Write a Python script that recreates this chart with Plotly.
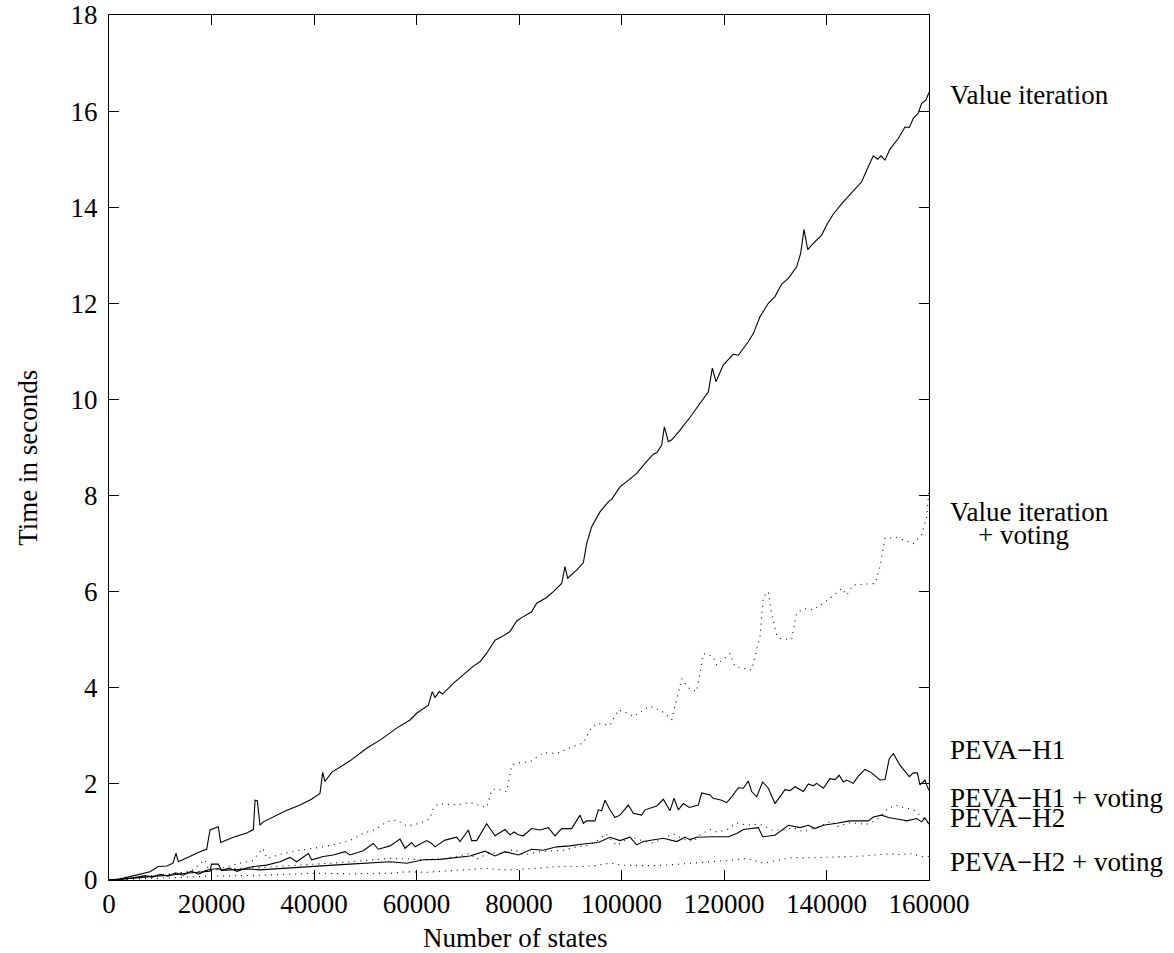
import plotly.graph_objects as go

# ---------------- data ----------------
x_ticks = [0, 20000, 40000, 60000, 80000, 100000, 120000, 140000, 160000]
x_tick_labels = ["0", "20000", "40000", "60000", "80000", "100000", "120000", "140000", "160000"]
y_ticks = [0, 2, 4, 6, 8, 10, 12, 14, 16, 18]

vi_x = [0, 2000, 4100, 6000, 8000, 9600, 11260, 12500, 13070, 13520, 15500, 17760, 19060, 19710, 21330,
        21790, 24260, 26870, 28170, 28500, 28940, 29460, 30110, 32060, 34500, 37270, 39500, 41170, 41300,
        41690, 42140, 43450, 47020, 50280, 52880, 56130, 58730, 60030, 62310, 63080, 63610, 64450, 65100,
        67190, 69790, 71090, 72390, 73690, 75320, 76620, 78240, 79550, 80520, 82470, 83450, 85400, 86700,
        88330, 88970, 89490, 91250, 92550, 93200, 94180, 95800, 97430, 98080, 99700, 101010, 102960,
        104580, 105230, 106200, 106870, 107840, 108360, 109140, 109800, 111420, 113370, 114990, 116290,
        116950, 117720, 118440, 119870, 121820, 122800, 124740, 125720, 127020, 128650, 129950, 131250,
        132550, 134180, 134960, 135610, 136330, 137430, 139060, 140030, 141330, 143280, 145560, 146860,
        147840, 149130, 149990, 150630, 151410, 152390, 154010, 155310, 156160, 156940, 157910, 158570,
        159410, 160000]
vi_y = [0, 0.02, 0.07, 0.12, 0.17, 0.28, 0.29, 0.35, 0.56, 0.38, 0.48, 0.59, 0.64, 1.04, 1.11,
        0.78, 0.89, 0.98, 1.05, 1.66, 1.65, 1.14, 1.21, 1.31, 1.44, 1.56, 1.68, 1.8, 1.91,
        2.24, 2.05, 2.24, 2.48, 2.74, 2.91, 3.16, 3.33, 3.47, 3.64, 3.92, 3.8, 3.92, 3.87,
        4.09, 4.33, 4.45, 4.54, 4.72, 4.99, 5.06, 5.17, 5.39, 5.46, 5.58, 5.76, 5.88, 6.0,
        6.17, 6.52, 6.28, 6.45, 6.6, 7.0, 7.35, 7.66, 7.87, 7.92, 8.18, 8.29, 8.46,
        8.67, 8.75, 8.86, 8.89, 9.05, 9.43, 9.12, 9.16, 9.36, 9.63, 9.88, 10.06,
        10.16, 10.65, 10.37, 10.72, 10.94, 10.92, 11.2, 11.37, 11.72, 12.0, 12.14, 12.4,
        12.52, 12.76, 13.04, 13.54, 13.12, 13.25, 13.42, 13.63, 13.86, 14.11, 14.39, 14.53,
        14.77, 15.07, 15.0, 15.07, 14.98, 15.21, 15.43, 15.67, 15.66, 15.85, 15.96, 16.16,
        16.23, 16.39]

viv_x = [0, 4000, 8000, 12000, 16000, 18700, 19500, 22000, 25560, 28000, 30000, 30800, 34000, 37270,
         40000, 43710, 47000, 49620, 52000, 54180, 56130, 58090, 60680, 62640, 63280, 64260, 67840,
         70440, 73690, 74670, 75500, 77590, 78570, 79500, 82140, 84740, 87350, 90280, 92550, 93850,
         95150, 97750, 99380, 100500, 102300, 105560, 108000, 109800, 111750, 113000, 114670, 115970,
         117920, 118570, 121170, 122150, 125400, 127020, 127670, 128650, 129300, 130280, 131250,
         133200, 134180, 135480, 137430, 140680, 142960, 143930, 145230, 147840, 149460, 150440,
         151410, 153690, 156940, 158570, 159540, 160000]
viv_y = [0, 0.03, 0.08, 0.12, 0.18, 0.42, 0.2, 0.25, 0.35, 0.4, 0.66, 0.45, 0.55, 0.62,
         0.66, 0.73, 0.82, 0.97, 1.05, 1.21, 1.25, 1.12, 1.18, 1.28, 1.49, 1.59, 1.56,
         1.61, 1.51, 1.87, 1.9, 1.84, 2.39, 2.43, 2.46, 2.65, 2.63, 2.77, 2.85, 3.12,
         3.26, 3.22, 3.54, 3.5, 3.4, 3.62, 3.5, 3.34, 4.19, 4.0, 3.92, 4.71,
         4.65, 4.47, 4.71, 4.44, 4.37, 5.06, 5.89, 6.0, 5.55, 5.1, 5.01,
         5.01, 5.55, 5.65, 5.62, 5.86, 6.07, 5.93, 6.14, 6.15, 6.17, 6.52,
         7.11, 7.13, 7.0, 7.18, 7.56, 8.11]

p1_x = [0, 3000, 5000, 7000, 8500, 10000, 11500, 13000, 14500, 16000, 17500, 19000, 19710, 21330, 22000,
        23500, 25000, 26500, 28170, 30760, 33370, 35320, 36620, 38890, 39550, 41820, 43770, 46050, 47020,
        49620, 51570, 52550, 54830, 56780, 57760, 59060, 59710, 61990, 62960, 63610, 65560, 67840, 68490,
        70110, 70770, 71740, 73690, 75320, 77270, 78240, 79020, 79870, 80840, 82470, 84100, 85720, 87020,
        88330, 90280, 91900, 92550, 93200, 94830, 95470, 96120, 96780, 97750, 98730, 99700, 101330,
        102300, 103940, 104580, 106870, 108160, 109460, 110240, 111090, 112060, 113240, 114990, 115650,
        117270, 117910, 119550, 120520, 121500, 122800, 123780, 124740, 125400, 126370, 127540, 128650,
        129950, 130930, 131900, 132880, 133850, 135480, 136450, 137430, 138080, 139380, 140680, 141660,
        142490, 143280, 143930, 145230, 146210, 147510, 148810, 150440, 151410, 152260, 153040, 154340,
        156160, 156940, 157720, 158240, 159210, 159540, 160000]
p1_y = [0, 0.02, 0.05, 0.09, 0.06, 0.12, 0.08, 0.15, 0.1, 0.18, 0.12, 0.2, 0.22, 0.24, 0.2,
        0.25, 0.18, 0.24, 0.28, 0.31, 0.38, 0.47, 0.38, 0.55, 0.42, 0.49, 0.52, 0.59, 0.52,
        0.61, 0.76, 0.64, 0.71, 0.85, 0.66, 0.78, 0.69, 0.82, 0.76, 0.69, 0.83, 0.89, 0.8,
        1.04, 0.82, 0.82, 1.17, 0.92, 1.05, 0.94, 1.0, 0.94, 0.92, 1.07, 1.04, 1.09, 0.92,
        1.07, 1.07, 1.35, 1.18, 1.23, 1.23, 1.46, 1.44, 1.66, 1.46, 1.3, 1.35, 1.56,
        1.39, 1.35, 1.46, 1.54, 1.68, 1.44, 1.7, 1.46, 1.59, 1.51, 1.56, 1.81,
        1.77, 1.7, 1.66, 1.61, 1.73, 1.92, 1.91, 2.06, 1.84, 1.73, 2.04, 1.91,
        1.59, 1.73, 1.88, 1.86, 1.94, 1.84, 2.0, 1.96, 2.01, 1.91, 2.11, 2.09,
        2.18, 2.04, 2.08, 2.01, 2.16, 2.3, 2.23, 2.08, 2.09, 2.53, 2.63, 2.39,
        2.15, 2.23, 2.23, 1.98, 2.08, 1.98, 1.86]

p1v_x = [0, 5000, 10000, 15000, 20000, 25000, 30000, 35000, 40000, 45000, 50000, 54830, 58000, 61340,
         65890, 68000, 70440, 71740, 74340, 77000, 79020, 80840, 84100, 88650, 91250, 93500, 95470,
         96980, 99050, 101660, 104000, 106200, 108000, 110110, 112000, 114020, 115320, 117270, 118570,
         120520, 122470, 124420, 126370, 127670, 129300, 131570, 133520, 135480, 138730, 141010, 141980,
         144580, 147840, 149790, 151740, 153370, 154990, 156940, 158240, 159540, 160000]
p1v_y = [0, 0.04, 0.1, 0.16, 0.2, 0.24, 0.26, 0.3, 0.33, 0.36, 0.4, 0.45, 0.44, 0.42,
         0.45, 0.5, 0.55, 0.43, 0.57, 0.55, 0.64, 0.52, 0.59, 0.62, 0.69, 0.72, 0.83,
         0.96, 0.71, 0.9, 0.82, 0.77, 0.85, 0.96, 0.85, 0.8, 0.94, 1.05, 1.0,
         1.04, 1.19, 1.14, 1.16, 1.14, 1.04, 1.04, 1.09, 1.0, 1.12, 1.23, 1.11,
         1.19, 1.16, 1.25, 1.46, 1.56, 1.51, 1.46, 1.35, 1.21, 1.2]

p2_x = [0, 3000, 6000, 9000, 12000, 15000, 18000, 19710, 20000, 21330, 22000, 25000, 27500, 29460, 32000,
        34670, 37000, 40000, 43770, 47000, 50280, 52500, 54830, 58090, 61340, 64580, 67840, 70440, 73370,
        75320, 77270, 79870, 82470, 84740, 87350, 89950, 92550, 95470, 97750, 99700, 101660, 102960,
        104260, 106870, 108160, 110770, 112390, 113370, 114670, 117920, 120850, 122470, 123780, 126700,
        127540, 129950, 132550, 134830, 136450, 137750, 139380, 141980, 144580, 148160, 149130, 150760,
        152060, 154340, 155640, 157590, 158570, 159210, 160000]
p2_y = [0, 0.02, 0.05, 0.08, 0.1, 0.14, 0.17, 0.18, 0.33, 0.33, 0.2, 0.21, 0.23, 0.21, 0.23,
        0.24, 0.26, 0.28, 0.31, 0.33, 0.35, 0.37, 0.38, 0.35, 0.42, 0.43, 0.47, 0.5, 0.6,
        0.5, 0.59, 0.52, 0.64, 0.62, 0.69, 0.71, 0.75, 0.78, 0.89, 0.82, 0.89, 0.73,
        0.8, 0.84, 0.87, 0.8, 0.89, 0.84, 0.89, 0.9, 0.9, 0.97, 1.05, 1.09,
        0.9, 0.93, 1.14, 1.09, 1.14, 1.07, 1.14, 1.18, 1.23, 1.23, 1.31, 1.35,
        1.3, 1.26, 1.23, 1.28, 1.21, 1.29, 1.16]

p2v_x = [0, 10000, 20000, 30000, 40000, 47000, 54830, 58000, 62000, 66000, 70000, 73690, 77000, 80000,
         84000, 88000, 92000, 95000, 97750, 100000, 103000, 106870, 110000, 111420, 114000, 117920,
         121000, 124420, 127670, 130000, 133520, 137000, 140680, 144000, 147200, 151740, 154000, 156940,
         158240, 160000]
p2v_y = [0, 0.04, 0.08, 0.1, 0.14, 0.13, 0.14, 0.17, 0.16, 0.19, 0.21, 0.24, 0.21, 0.22,
         0.25, 0.28, 0.28, 0.3, 0.35, 0.31, 0.3, 0.3, 0.32, 0.33, 0.35, 0.38,
         0.41, 0.45, 0.35, 0.4, 0.47, 0.46, 0.47, 0.48, 0.5, 0.54, 0.53, 0.55,
         0.49, 0.49]

series_labels = ["Value iteration", "Value iteration", "+ voting", "PEVA\u2212H1",
                 "PEVA\u2212H1 + voting", "PEVA\u2212H2", "PEVA\u2212H2 + voting"]
label_y = [16.33, 7.66, 7.18, 2.7, 1.71, 1.3, 0.37]
label_x = [1.0232, 1.0232, 1.0573, 1.0232, 1.0232, 1.0232, 1.0232]

# ---------------- figure ----------------
FONT = "Liberation Serif, Times New Roman, serif"
FS = 27
fig = go.Figure()

solid = dict(color="black", width=1.1)
dotted = dict(color="black", width=1.1, dash="1px,5px")

for xs, ys, ln in [(p2v_x, p2v_y, dotted), (p1v_x, p1v_y, dotted), (viv_x, viv_y, dotted),
                   (p2_x, p2_y, solid), (p1_x, p1_y, solid), (vi_x, vi_y, solid)]:
    assert len(xs) == len(ys), (len(xs), len(ys))
    fig.add_trace(go.Scatter(x=xs, y=ys, mode="lines", line=ln, showlegend=False, hoverinfo="skip"))

for t, yv, xv in zip(series_labels, label_y, label_x):
    fig.add_annotation(text=t, x=xv, xref="paper", y=yv, yref="y", xanchor="left", yanchor="middle",
                       showarrow=False, font=dict(family=FONT, size=FS, color="black"))

fig.add_annotation(text="Number of states", x=0.495, xref="paper", y=-0.067, yref="paper",
                   xanchor="center", yanchor="middle", showarrow=False,
                   font=dict(family=FONT, size=FS, color="black"))
fig.add_annotation(text="Time in seconds", x=-0.0988, xref="paper", y=0.488, yref="paper",
                   xanchor="center", yanchor="middle", textangle=-90, showarrow=False,
                   font=dict(family=FONT, size=FS, color="black"))

axis_common = dict(showgrid=False, zeroline=False, showline=True, linecolor="black", linewidth=1,
                   mirror="ticks", ticks="inside", ticklen=10, tickwidth=1, tickcolor="black",
                   automargin=False, tickfont=dict(family=FONT, size=FS, color="black"))
fig.update_xaxes(range=[0, 160000], tickmode="array", tickvals=x_ticks, ticktext=x_tick_labels,
                 ticklabelstandoff=0, **axis_common)
fig.update_yaxes(range=[0, 18], tickmode="array", tickvals=y_ticks, ticklabelstandoff=5, **axis_common)

fig.update_layout(width=1174, height=953, paper_bgcolor="white", plot_bgcolor="white",
                  margin=dict(l=109, r=245, t=15, b=73, autoexpand=False),
                  font=dict(family=FONT, size=FS, color="black"))

fig.write_html("out.html")
